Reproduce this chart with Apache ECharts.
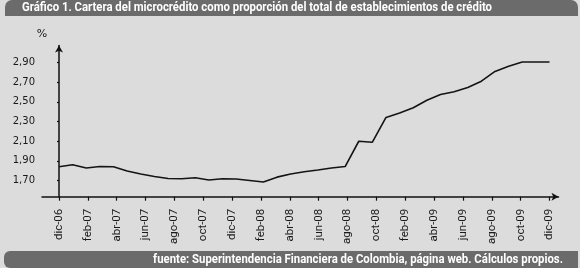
<!DOCTYPE html>
<html>
<head>
<meta charset="utf-8">
<script src="https://cdn.jsdelivr.net/npm/echarts@6/dist/echarts.min.js"></script>
<style>
  html, body { margin: 0; padding: 0; }
  #main { width: 580px; height: 268px; }
</style>
</head>
<body>
<div id="main"></div>
<script>
// meses (dic-06 .. dic-09)
var months = ['dic-06', 'ene-07', 'feb-07', 'mar-07', 'abr-07', 'may-07', 'jun-07', 'jul-07', 'ago-07', 'sep-07',
    'oct-07', 'nov-07', 'dic-07', 'ene-08', 'feb-08', 'mar-08', 'abr-08', 'may-08', 'jun-08', 'jul-08',
    'ago-08', 'sep-08', 'oct-08', 'nov-08', 'dic-08', 'ene-09', 'feb-09', 'mar-09', 'abr-09', 'may-09',
    'jun-09', 'jul-09', 'ago-09', 'sep-09', 'oct-09', 'nov-09', 'dic-09'];
// cartera microcrédito / total (%)
var share = [1.84, 1.86, 1.827, 1.842, 1.839, 1.797, 1.766, 1.741, 1.72, 1.717,
    1.727, 1.705, 1.717, 1.715, 1.70, 1.685, 1.734, 1.766, 1.789, 1.807,
    1.827, 1.842, 2.099, 2.089, 2.341, 2.387, 2.44, 2.516, 2.575, 2.602,
    2.646, 2.71, 2.809, 2.863, 2.905, 2.905, 2.905];
// etiquetas del eje x (como en el original, sin dic-08)
var xLabels = ['dic-06', 'feb-07', 'abr-07', 'jun-07', 'ago-07', 'oct-07', 'dic-07', 'feb-08', 'abr-08',
    'jun-08', 'ago-08', 'oct-08', 'feb-09', 'abr-09', 'jun-09', 'ago-09', 'oct-09', 'dic-09'];
var yTicks = [1.70, 1.90, 2.10, 2.30, 2.50, 2.70, 2.90];

var title = 'Gráfico 1. Cartera del microcrédito como proporción del total de establecimientos de crédito';
var source = 'fuente: Superintendencia Financiera de Colombia, página web. Cálculos propios.';

var last = months.length - 1;
var xPos = [];
for (var k = 0; k < xLabels.length; k++) {
    xPos.push(k * last / (xLabels.length - 1));
}
var points = [];
for (var i = 0; i < share.length; i++) {
    points.push([i, share[i]]);
}

// la fuente original es condensada: se estrecha el texto con scaleX
var barFont = 'bold 13px Roboto';
var ctx = document.createElement('canvas').getContext('2d');
ctx.font = barFont;
var titleW = ctx.measureText(title).width;
var sourceW = ctx.measureText(source).width;
var squeeze = 470 / titleW;

var myChart = echarts.init(document.getElementById('main'));

var option = {
    backgroundColor: '#dcdcdc',
    animation: false,
    grid: {
        left: 42,
        right: 21.5,
        top: 45.5,
        bottom: 71.3
    },
    xAxis: {
        type: 'value',
        min: -1.248,
        max: 36.66,
        splitLine: { show: false },
        axisLine: {
            onZero: false,
            symbol: ['none', 'arrow'],
            symbolSize: [6, 7],
            lineStyle: { color: '#111', width: 1.5 }
        },
        axisTick: {
            customValues: xPos,
            length: 4,
            lineStyle: { color: '#111', width: 1.2 }
        },
        axisLabel: {
            customValues: xPos,
            rotate: 90,
            margin: 12,
            fontFamily: 'Roboto',
            fontSize: 11.5,
            color: '#1a1a1a',
            formatter: function (v) {
                return xLabels[Math.round(v * (xLabels.length - 1) / last)];
            }
        }
    },
    yAxis: {
        type: 'value',
        min: 1.535,
        max: 3.073,
        splitLine: { show: false },
        axisLine: {
            symbol: ['none', 'arrow'],
            symbolSize: [6, 7],
            lineStyle: { color: '#111', width: 1.5 }
        },
        axisTick: {
            customValues: yTicks,
            length: 2,
            lineStyle: { color: '#111', width: 1.2 }
        },
        axisLabel: {
            customValues: yTicks,
            margin: 7,
            fontFamily: 'DejaVu Sans',
            fontSize: 10,
            color: '#1a1a1a',
            formatter: function (v) {
                return v.toFixed(2).replace('.', ',');
            }
        }
    },
    series: [{
        type: 'line',
        data: points,
        symbol: 'none',
        lineStyle: { color: '#141414', width: 1.6 }
    }],
    graphic: [
        {
            type: 'rect',
            shape: { x: 5, y: 0, width: 573, height: 16, r: [7, 7, 0, 0] },
            style: { fill: '#6b6b6b' }
        },
        {
            type: 'text',
            x: 22,
            y: 8,
            scaleX: squeeze,
            style: { text: title, fill: '#fff', font: barFont, textVerticalAlign: 'middle' }
        },
        {
            type: 'rect',
            shape: { x: 4, y: 251, width: 574, height: 17, r: [6, 0, 0, 6] },
            style: { fill: '#6b6b6b' }
        },
        {
            type: 'text',
            x: 563 - sourceW * squeeze,
            y: 259.5,
            scaleX: squeeze,
            style: { text: source, fill: '#fff', font: barFont, textVerticalAlign: 'middle' }
        },
        {
            type: 'text',
            x: 42,
            y: 34,
            style: { text: '%', fill: '#1a1a1a', font: '11px "DejaVu Sans"', align: 'center', verticalAlign: 'middle' }
        }
    ]
};

myChart.setOption(option, true);
</script>
</body>
</html>
